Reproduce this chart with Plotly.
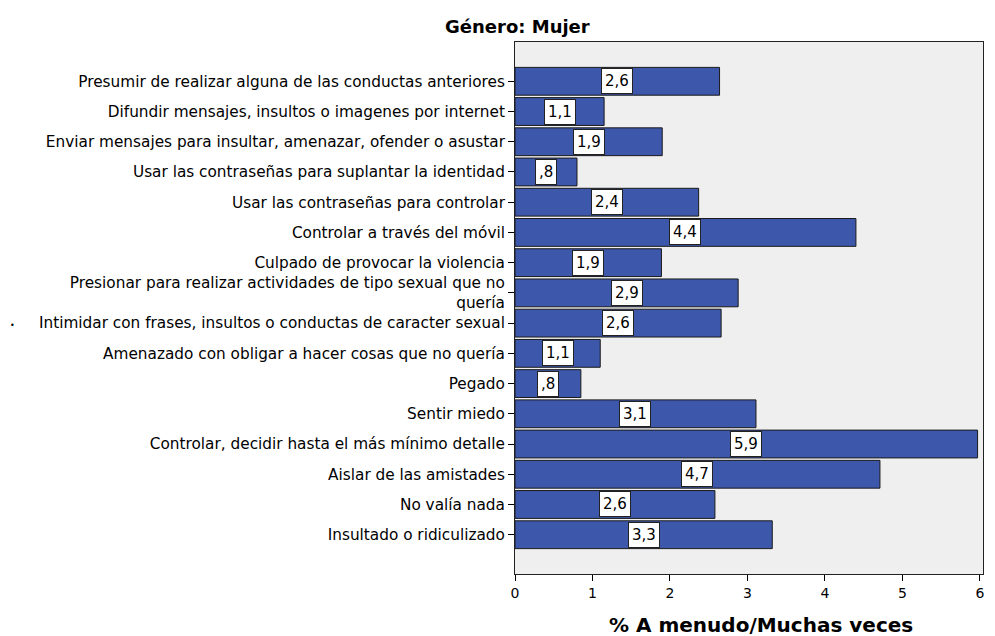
import plotly.graph_objects as go

categories = [
    "Presumir de realizar alguna de las conductas anteriores",
    "Difundir mensajes, insultos o imagenes por internet",
    "Enviar mensajes para insultar, amenazar, ofender o asustar",
    "Usar las contraseñas para suplantar la identidad",
    "Usar las contraseñas para controlar",
    "Controlar a través del móvil",
    "Culpado de provocar la violencia",
    "Presionar para realizar actividades de tipo sexual que no<br>quería",
    "Intimidar con frases, insultos o conductas de caracter sexual",
    "Amenazado con obligar a hacer cosas que no quería",
    "Pegado",
    "Sentir miedo",
    "Controlar, decidir hasta el más mínimo detalle",
    "Aislar de las amistades",
    "No valía nada",
    "Insultado o ridiculizado",
]
values = [2.64, 1.15, 1.9, 0.8, 2.37, 4.4, 1.89, 2.88, 2.66, 1.1, 0.85, 3.11, 5.97, 4.71, 2.58, 3.32]
value_labels = ["2,6", "1,1", "1,9", ",8", "2,4", "4,4", "1,9", "2,9", "2,6", "1,1", ",8", "3,1", "5,9", "4,7", "2,6", "3,3"]
x_ticks = [0, 1, 2, 3, 4, 5, 6]

FONT = "DejaVu Sans, Liberation Sans, sans-serif"
W, H = 995, 636
ML, MR, MT, MB = 515, 12, 42, 62
PW, PH = W - ML - MR, H - MT - MB


def px_to_paper(px, py):
    return (px - ML) / PW, (H - MB - py) / PH


idx = list(range(len(categories)))

fig = go.Figure()
fig.add_trace(go.Bar(
    x=values, y=idx, orientation="h",
    width=0.92,
    marker=dict(color="#3d57ab", line=dict(color="#1a1a1a", width=1)),
    hoverinfo="skip",
))

for i, (v, lab) in enumerate(zip(values, value_labels)):
    fig.add_annotation(
        x=v / 2, y=i, xref="x", yref="y", text=lab, showarrow=False,
        font=dict(family=FONT, size=15, color="black"),
        bgcolor="white", bordercolor="#222222", borderwidth=1, borderpad=3,
    )

tx, ty = px_to_paper(517, 27)
fig.add_annotation(
    x=tx, y=ty, xref="paper", yref="paper", text="<b>Género: Mujer</b>",
    showarrow=False, xanchor="center", yanchor="middle",
    font=dict(family=FONT, size=18, color="black"),
)
ax, ay = px_to_paper(761, 625)
fig.add_annotation(
    x=ax, y=ay, xref="paper", yref="paper", text="<b>% A menudo/Muchas veces</b>",
    showarrow=False, xanchor="center", yanchor="middle",
    font=dict(family=FONT, size=20, color="black"),
)
sx, sy = px_to_paper(12, 325)
fig.add_annotation(
    x=sx, y=sy, xref="paper", yref="paper", text="•",
    showarrow=False, xanchor="center", yanchor="middle",
    font=dict(family=FONT, size=8, color="black"),
)

fig.update_layout(
    width=W, height=H,
    margin=dict(l=ML, r=MR, t=MT, b=MB),
    paper_bgcolor="white", plot_bgcolor="#efefef",
    showlegend=False,
    font=dict(family=FONT, size=14, color="black"),
    xaxis=dict(
        range=[0, 6.04], tickvals=x_ticks, ticktext=[str(t) for t in x_ticks],
        ticks="outside", ticklen=6, tickcolor="black", tickfont=dict(size=14),
        showgrid=False, zeroline=False, automargin=False,
        showline=True, linecolor="#222222", linewidth=1, mirror=True,
    ),
    yaxis=dict(
        range=[16.3, -1.3], tickvals=idx, ticktext=categories,
        ticks="outside", ticklen=6, tickcolor="black", tickfont=dict(size=15.3),
        showgrid=False, zeroline=False, automargin=False,
        showline=True, linecolor="#222222", linewidth=1, mirror=True,
    ),
)
fig.write_html(
    "out.html",
    config={"displayModeBar": False},
    post_script="document.body.style.margin='0';document.body.style.padding='0';",
)
